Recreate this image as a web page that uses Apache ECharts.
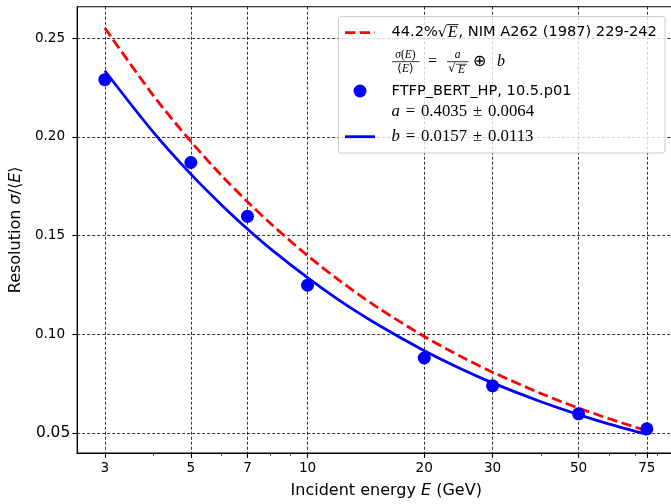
<!DOCTYPE html>
<html><head><meta charset="utf-8">
<script src="https://cdn.jsdelivr.net/npm/echarts@6/dist/echarts.min.js"></script>
<style>html,body{margin:0;padding:0;background:#fff;overflow:hidden;width:671px;height:504px}#c{width:700px;height:504px}</style>
</head><body><div id="c"></div>
<script>
// ---------------- data ----------------
const energies = [3, 5, 7, 10, 20, 30, 50, 75];
const resolution = [0.2290, 0.1870, 0.1597, 0.1248, 0.0879, 0.0738, 0.0596, 0.0520];
const curveE = [3, 4, 5, 6, 7, 8, 10, 12, 15, 20, 25, 30, 40, 50, 60, 75];
const nimRes = [0.2552, 0.2210, 0.1977, 0.1804, 0.1671, 0.1563, 0.1398, 0.1276, 0.1141, 0.0988, 0.0884, 0.0807, 0.0699, 0.0625, 0.0571, 0.0510];
const fitRes = [0.2335, 0.2024, 0.1811, 0.1655, 0.1533, 0.1435, 0.1286, 0.1175, 0.1054, 0.0916, 0.0822, 0.0753, 0.0657, 0.0592, 0.0544, 0.0492];
const xMajorTicks = [3, 5, 7, 10, 20, 30, 50, 75];
const xMinorTicks = [4, 6, 8, 9, 40, 60, 70, 80, 90];
const yTicks = [0.05, 0.10, 0.15, 0.20, 0.25];
const nimLabel = ['44.2%', '√', 'E', ', NIM A262 (1987) 229-242'];
const simLabel = 'FTFP_BERT_HP, 10.5.p01';
const aLabel = ['a', '=', '0.4035', '±', '0.0064'];
const bLabel = ['b', '=', '0.0157', '±', '0.0113'];

// ---------------- helpers ----------------
const SANS = 'DejaVu Sans';
const SERIF = 'Liberation Serif';
const ctx = document.createElement('canvas').getContext('2d');
function fnt(size, fam, it) { return (it ? 'italic ' : '') + size + 'px "' + fam + '"'; }
function tw(t, f) { ctx.font = f; return ctx.measureText(t).width; }
function txt(t, x, y, f, align) {
  return { type: 'text', z: 102, silent: true,
    style: { text: t, x: x, y: y, font: f, fill: '#000', align: align || 'left', verticalAlign: 'middle' } };
}
function line(x1, y1, x2, y2, color, w, dash) {
  return { type: 'line', z: 102, silent: true, shape: { x1, y1, x2, y2 },
    style: { stroke: color, lineWidth: w, lineDash: dash || null } };
}

const els = [];
// legend frame
els.push({ type: 'rect', z: 100, silent: true,
  shape: { x: 338.5, y: 16.5, width: 326.5, height: 136.5, r: 3 },
  style: { fill: 'rgba(255,255,255,0.8)', stroke: '#cccccc', lineWidth: 1 } });

const TX = 391.5;
const LF = 14.6;
// row 1
els.push(line(345, 32.7, 375, 32.7, '#ff0000', 2.8, [10.3, 4.45]));
(function () {
  let x = TX; const y = 32.7;
  const f1 = fnt(LF, SANS), fr = fnt(LF, SANS), fe = fnt(LF + 1.5, SERIF, true);
  els.push(txt(nimLabel[0], x, y, f1)); x += tw(nimLabel[0], f1);
  els.push(txt(nimLabel[1], x, y + 0.5, fr)); const rw = tw(nimLabel[1], fr); x += rw;
  const ex = x; els.push(txt(nimLabel[2], x + 0.5, y + 0.5, fe)); const ew = tw(nimLabel[2], fe);
  els.push(line(ex - 0.5, 24.6, ex + ew + 1.5, 24.6, '#000', 0.9));
  x += ew + 1.5;
  els.push(txt(nimLabel[3], x, y, f1));
})();
// row 2 : fraction formula
(function () {
  const y = 61.7, fs = fnt(11.5, SERIF, true), fn = fnt(11.5, SERIF), fb = fnt(16, SERIF);
  els.push({ type: 'text', z: 102, silent: true, style: { text: '{i|σ}{n|(}{i|E}{n|)}', x: 405.5, y: 55, align: 'center', verticalAlign: 'middle',
    rich: { i: { font: fs, fill: '#000' }, n: { font: fn, fill: '#000' } } } });
  els.push(line(392, y, 419.5, y, '#000', 0.8));
  els.push({ type: 'text', z: 102, silent: true, style: { text: '{n|⟨}{i|E}{n|⟩}', x: 405.5, y: 69, align: 'center', verticalAlign: 'middle',
    rich: { i: { font: fs, fill: '#000' }, n: { font: fn, fill: '#000' } } } });
  els.push(txt('=', 432.5, y, fb, 'center'));
  els.push(txt('a', 457.5, 54.5, fs, 'center'));
  els.push(line(447, y, 468.5, y, '#000', 0.8));
  els.push(txt('√', 452, 69.5, fnt(11.5, SANS), 'center'));
  els.push(txt('E', 461.5, 69.5, fs, 'center'));
  els.push(line(456, 64.3, 467, 64.3, '#000', 0.7));
  els.push(txt('⊕', 479, y, fb, 'center'));
  els.push(txt('b', 497, y, fnt(16, SERIF, true)));
})();
// row 3 : simulation points
els.push({ type: 'circle', z: 102, silent: true, shape: { cx: 360, cy: 91, r: 6.5 }, style: { fill: '#0000ff' } });
els.push(txt(simLabel, TX, 91, fnt(LF, SANS)));
// rows 4, 5 : fit parameters
function mathRow(parts, y) {
  const fi = fnt(16.8, SERIF, true), fnn = fnt(16.8, SERIF);
  let x = TX; const gap = 5.8;
  els.push(txt(parts[0], x, y, fi)); x += tw(parts[0], fi) + gap;
  els.push(txt(parts[1], x, y, fnn)); x += tw(parts[1], fnn) + gap;
  els.push(txt(parts[2], x, y, fnn)); x += tw(parts[2], fnn) + gap;
  els.push(txt(parts[3], x, y, fnn)); x += tw(parts[3], fnn) + gap;
  els.push(txt(parts[4], x, y, fnn));
}
mathRow(aLabel, 111.7);
els.push(line(345, 136.7, 375, 136.7, '#0000ff', 2.8));
mathRow(bLabel, 136.7);

// ---------------- chart ----------------
const chart = echarts.init(document.getElementById('c'), null, { renderer: 'canvas', width: 700, height: 504 });
const gridStyle = { color: '#000', width: 0.8, type: [3, 2] };
chart.setOption({
  animation: false,
  backgroundColor: '#fff',
  textStyle: { fontFamily: SANS },
  grid: { left: 75, top: 6.7, width: 620.3, height: 447.6, show: true, borderColor: '#000', borderWidth: 1.1, containLabel: false },
  xAxis: [{
    type: 'log', logBase: 10, min: 2.546, max: 100, position: 'bottom',
    name: 'Incident energy {i|E} (GeV)', nameLocation: 'middle', nameGap: 30,
    nameTextStyle: { fontSize: 16, color: '#000', fontFamily: SANS,
      rich: { i: { fontSize: 16, fontStyle: 'italic', color: '#000', fontFamily: SANS } } },
    axisLine: { show: true, lineStyle: { color: '#000', width: 1.1 } },
    axisTick: { show: true, inside: false, length: 4.9, lineStyle: { color: '#000', width: 1.1 }, customValues: xMajorTicks },
    axisLabel: { show: true, color: '#000', fontSize: 13.6, margin: 8, fontFamily: SANS, customValues: xMajorTicks,
      formatter: v => String(Math.round(v)) },
    splitLine: { show: true, lineStyle: gridStyle },
    minorTick: { show: false }, minorSplitLine: { show: false }
  }, {
    type: 'log', logBase: 10, min: 2.546, max: 100, position: 'bottom', gridIndex: 0,
    axisLine: { show: false },
    axisTick: { show: true, inside: false, length: 2.8, lineStyle: { color: '#000', width: 0.8 }, customValues: xMinorTicks },
    axisLabel: { show: false }, splitLine: { show: false }
  }],
  yAxis: {
    type: 'value', min: 0.03974, max: 0.26597,
    name: 'Resolution {i|σ}/⟨{i|E}⟩', nameLocation: 'middle', nameGap: 49,
    nameTextStyle: { fontSize: 16, color: '#000', fontFamily: SANS,
      rich: { i: { fontSize: 16, fontStyle: 'italic', color: '#000', fontFamily: SANS } } },
    axisLine: { show: true, lineStyle: { color: '#000', width: 1.1 } },
    axisTick: { show: true, inside: false, length: 4.9, lineStyle: { color: '#000', width: 1.1 }, customValues: yTicks },
    axisLabel: { show: true, color: '#000', margin: 7, customValues: yTicks,
      formatter: v => Math.abs(v - 0.05) < 1e-9 ? '{b|0.05}' : '{n|' + v.toFixed(2) + '}',
      rich: { n: { fontSize: 13.6, color: '#000', fontFamily: SANS, padding: [0, 5, 0, 0] },
              b: { fontSize: 15.4, color: '#000', fontFamily: SANS } } },
    splitLine: { show: true, lineStyle: gridStyle }
  },
  series: [{
    type: 'line', name: 'NIM', xAxisIndex: 0, symbol: 'none', smooth: 0.3, z: 3,
    data: curveE.map((e, i) => [e, nimRes[i]]),
    lineStyle: { color: '#ff0000', width: 2.8, type: [10.3, 4.45] }
  }, {
    type: 'scatter', name: 'sim', xAxisIndex: 0, symbol: 'circle', symbolSize: 13, z: 4,
    data: energies.map((e, i) => [e, resolution[i]]),
    itemStyle: { color: '#0000ff', opacity: 1 }
  }, {
    type: 'line', name: 'fit', xAxisIndex: 0, symbol: 'none', smooth: 0.3, z: 5,
    data: curveE.map((e, i) => [e, fitRes[i]]),
    lineStyle: { color: '#0000ff', width: 2.8 }
  }],
  graphic: { elements: els }
});
</script>
</body></html>
